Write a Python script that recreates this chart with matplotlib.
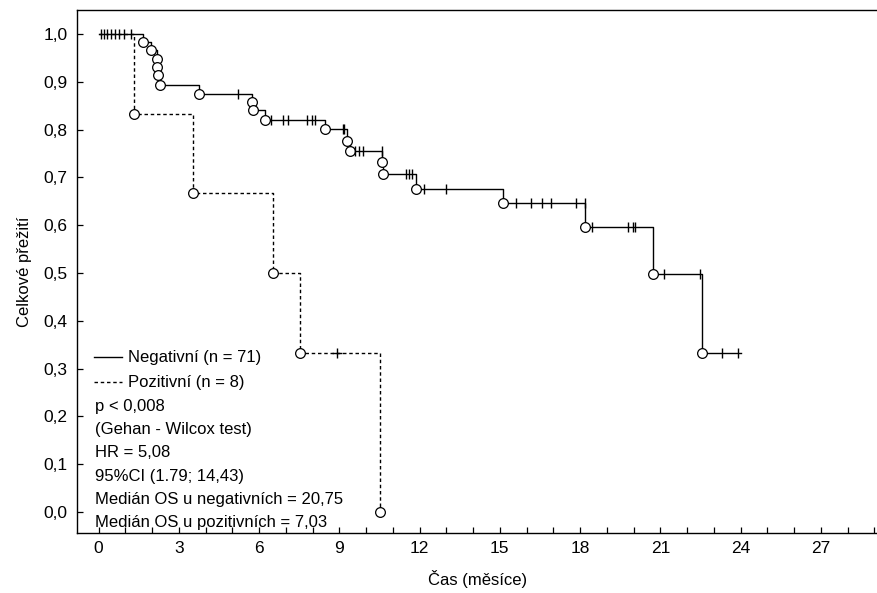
import numpy as np
import matplotlib
matplotlib.use("Agg")
import matplotlib.pyplot as plt

plt.rcParams['font.family'] = ['Liberation Sans', 'DejaVu Sans']

# --- data ---
# Negativní (n = 71): event times (months) and survival after each event
neg_event_t = [1.66, 1.97, 2.17, 2.19, 2.21, 2.28, 3.77, 5.72, 5.76, 6.22,
               8.46, 9.30, 9.40, 10.61, 10.65, 11.85, 15.13, 18.20, 20.73, 22.57]
neg_event_s = [0.984, 0.967, 0.948, 0.930, 0.914, 0.893, 0.874, 0.858, 0.840, 0.821,
               0.801, 0.776, 0.755, 0.732, 0.707, 0.676, 0.646, 0.597, 0.498, 0.332]
neg_censor_t = [0.10, 0.20, 0.30, 0.45, 0.60, 0.75, 0.95, 1.20, 5.20, 6.44,
                6.88, 7.07, 7.81, 7.96, 8.09, 9.12, 9.18, 9.60, 9.74, 9.87,
                10.60, 11.48, 11.60, 11.73, 12.16, 12.97, 15.59, 16.17, 16.58, 16.93,
                17.86, 18.17, 18.45, 19.78, 19.96, 20.04, 21.12, 22.49, 23.30, 23.92]
neg_end = 24.0

# Pozitivní (n = 8)
pos_event_t = [1.34, 3.54, 6.53, 7.52, 10.52]
pos_event_s = [0.833, 0.667, 0.500, 0.333, 0.0]
pos_censor_t = [8.91]

x_ticks = [0, 3, 6, 9, 12, 15, 18, 21, 24, 27]
y_ticks = [0.0, 0.1, 0.2, 0.3, 0.4, 0.5, 0.6, 0.7, 0.8, 0.9, 1.0]

legend_labels = ["Negativní (n = 71)", "Pozitivní (n = 8)"]
info_lines = ["p < 0,008", "(Gehan - Wilcox test)", "HR = 5,08", "95%CI (1.79; 14,43)",
              "Medián OS u negativních = 20,75", "Medián OS u pozitivních = 7,03"]

DASH = (0, (2.5, 2))


def surv_at(t_events, s_events, t):
    """survival level of the step function at time t"""
    i = np.searchsorted(t_events, t, side='right')
    return 1.0 if i == 0 else s_events[i - 1]


fig = plt.figure(figsize=(8.77, 5.93), dpi=100)
ax = fig.add_axes([0.088, 0.101, 0.912, 0.882])

# negative group - solid
xs = [0] + neg_event_t + [neg_end]
ys = [1.0] + neg_event_s + [neg_event_s[-1]]
ax.step(xs, ys, where='post', color='black', lw=1.0)
ax.plot(neg_event_t, neg_event_s, 'o', mfc='white', mec='black', ms=7, mew=0.9, ls='none')
ax.plot(neg_censor_t, [surv_at(neg_event_t, neg_event_s, t) for t in neg_censor_t],
        '|', color='black', ms=7, mew=1.0, ls='none')

# positive group - dashed
xs = [0] + pos_event_t
ys = [1.0] + pos_event_s
ax.step(xs, ys, where='post', color='black', lw=1.0, ls=DASH)
ax.plot(pos_event_t, pos_event_s, 'o', mfc='white', mec='black', ms=7, mew=0.9, ls='none')
ax.plot(pos_censor_t, [surv_at(pos_event_t, pos_event_s, t) for t in pos_censor_t],
        '+', color='black', ms=7, mew=1.0, ls='none')

# axes
ax.set_xlim(-0.8, 29.1)
ax.set_ylim(-0.044, 1.05)
ax.set_xticks(x_ticks)
ax.set_xticks(np.arange(0, 30, 1), minor=True)
ax.set_yticks(y_ticks)
ax.set_yticklabels([f"{v:.1f}".replace('.', ',') for v in y_ticks])
ax.tick_params(which='both', direction='in', length=4, width=0.9, labelsize=12.5)
ax.tick_params(axis='x', pad=6)
ax.tick_params(axis='y', pad=7)
ax.spines['right'].set_visible(False)
for s in ax.spines.values():
    s.set_linewidth(1.0)
ax.set_xlabel("Čas (měsíce)", fontsize=12, labelpad=10)
ax.set_ylabel("Celkové přežití", fontsize=12, labelpad=8)

# legend drawn by hand + test results
leg_y = [0.336, 0.288]
for y, style, lab in zip(leg_y, ['-', DASH], legend_labels):
    ax.plot([0.021, 0.056], [y, y], color='black', lw=1.0, ls=style, transform=ax.transAxes)
    ax.text(0.063, y, lab, transform=ax.transAxes, fontsize=12, va='center')
for i, line in enumerate(info_lines):
    ax.text(0.022, 0.242 - i * 0.0443, line, transform=ax.transAxes, fontsize=12, va='center')

fig.savefig("out.png", dpi=100)
